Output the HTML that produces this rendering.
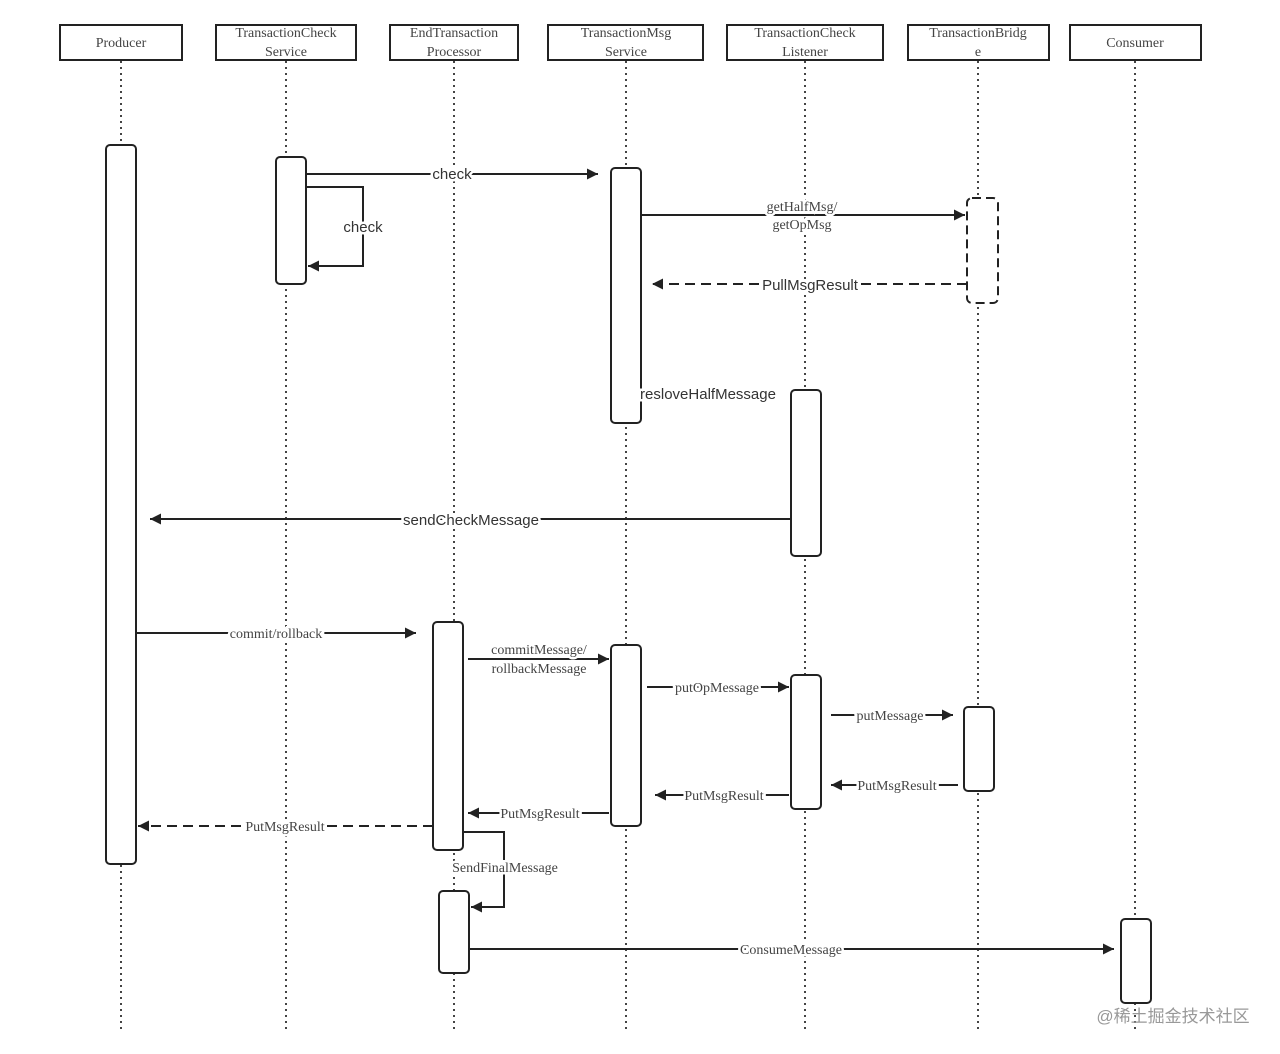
<!DOCTYPE html>
<html><head><meta charset="utf-8"><style>
html,body{margin:0;padding:0;background:#fff;}
svg{display:block;}
.serif{font-family:"Liberation Serif",serif;font-size:14px;fill:#444;}
.sans{font-family:"Liberation Sans",sans-serif;font-size:15px;fill:#333;}
.lbl{paint-order:stroke;stroke:#fff;stroke-width:5px;}
</style></head><body>
<svg width="1280" height="1054" viewBox="0 0 1280 1054" xmlns="http://www.w3.org/2000/svg">
<defs>
<marker id="a" viewBox="0 0 10 10" refX="10" refY="5" markerWidth="17" markerHeight="11" markerUnits="userSpaceOnUse" orient="auto"><path d="M0,0 L10,5 L0,10 z" fill="#222"/></marker>
</defs>
<g stroke="#444" stroke-width="2" stroke-dasharray="2,4" fill="none">
<line x1="121" y1="61" x2="121" y2="1030"/>
<line x1="286" y1="61" x2="286" y2="1030"/>
<line x1="454" y1="61" x2="454" y2="1030"/>
<line x1="626" y1="61" x2="626" y2="1030"/>
<line x1="805" y1="61" x2="805" y2="1030"/>
<line x1="978" y1="61" x2="978" y2="1030"/>
<line x1="1135" y1="61" x2="1135" y2="1030"/>
</g>
<g stroke="#222" stroke-width="2" fill="#fff">
<rect x="60" y="25" width="122" height="35"/>
<rect x="216" y="25" width="140" height="35"/>
<rect x="390" y="25" width="128" height="35"/>
<rect x="548" y="25" width="155" height="35"/>
<rect x="727" y="25" width="156" height="35"/>
<rect x="908" y="25" width="141" height="35"/>
<rect x="1070" y="25" width="131" height="35"/>
</g>
<g class="serif" text-anchor="middle">
<text x="121" y="47">Producer</text>
<text x="286" y="37">TransactionCheck</text><text x="286" y="56">Service</text>
<text x="454" y="37">EndTransaction</text><text x="454" y="56">Processor</text>
<text x="626" y="37">TransactionMsg</text><text x="626" y="56">Service</text>
<text x="805" y="37">TransactionCheck</text><text x="805" y="56">Listener</text>
<text x="978" y="37">TransactionBridg</text><text x="978" y="56">e</text>
<text x="1135" y="47">Consumer</text>
</g>
<g stroke="#222" stroke-width="2" fill="#fff">
<rect x="106" y="145" width="30" height="719" rx="4"/>
<rect x="276" y="157" width="30" height="127" rx="4"/>
<rect x="611" y="168" width="30" height="255" rx="4"/>
<rect x="967" y="198" width="31" height="105" rx="5" stroke-dasharray="9,5"/>
<rect x="791" y="390" width="30" height="166" rx="4"/>
<rect x="433" y="622" width="30" height="228" rx="4"/>
<rect x="611" y="645" width="30" height="181" rx="4"/>
<rect x="791" y="675" width="30" height="134" rx="4"/>
<rect x="964" y="707" width="30" height="84" rx="4"/>
<rect x="439" y="891" width="30" height="82" rx="4"/>
<rect x="1121" y="919" width="30" height="84" rx="4"/>
</g>
<g stroke="#222" stroke-width="2" fill="none">
<line x1="306" y1="174" x2="598" y2="174" marker-end="url(#a)"/>
<polyline points="306,187 363,187 363,266 308,266" marker-end="url(#a)"/>
<line x1="641" y1="215" x2="965" y2="215" marker-end="url(#a)"/>
<line x1="967" y1="284" x2="652" y2="284" stroke-dasharray="10,6" marker-end="url(#a)"/>
<line x1="791" y1="519" x2="150" y2="519" marker-end="url(#a)"/>
<line x1="136" y1="633" x2="416" y2="633" marker-end="url(#a)"/>
<line x1="468" y1="659" x2="609" y2="659" marker-end="url(#a)"/>
<line x1="647" y1="687" x2="789" y2="687" marker-end="url(#a)"/>
<line x1="831" y1="715" x2="953" y2="715" marker-end="url(#a)"/>
<line x1="958" y1="785" x2="831" y2="785" marker-end="url(#a)"/>
<line x1="789" y1="795" x2="655" y2="795" marker-end="url(#a)"/>
<line x1="609" y1="813" x2="468" y2="813" marker-end="url(#a)"/>
<line x1="433" y1="826" x2="138" y2="826" stroke-dasharray="10,6" marker-end="url(#a)"/>
<polyline points="463,832 504,832 504,907 471,907" marker-end="url(#a)"/>
<line x1="469" y1="949" x2="1114" y2="949" marker-end="url(#a)"/>
</g>
<g class="sans lbl" text-anchor="middle">
<text x="452" y="179">check</text>
<text x="363" y="232">check</text>
<text x="810" y="290">PullMsgResult</text>
<text x="708" y="399">resloveHalfMessage</text>
<text x="471" y="525">sendCheckMessage</text>
</g>
<g class="serif lbl" text-anchor="middle">
<text x="802" y="211">getHalfMsg/</text>
<text x="802" y="229">getOpMsg</text>
<text x="276" y="638">commit/rollback</text>
<text x="539" y="654" text-anchor="middle">commitMessage/</text>
<text x="539" y="673" text-anchor="middle">rollbackMessage</text>
<text x="717" y="692">putOpMessage</text>
<text x="890" y="720">putMessage</text>
<text x="897" y="790">PutMsgResult</text>
<text x="724" y="800">PutMsgResult</text>
<text x="540" y="818">PutMsgResult</text>
<text x="285" y="831">PutMsgResult</text>
<text x="505" y="872">SendFinalMessage</text>
<text x="791" y="954">ConsumeMessage</text>
</g>
<text x="1173" y="1022" text-anchor="middle" style="font-family:'Liberation Sans','Noto Sans CJK SC',sans-serif;font-size:17px;fill:#999;">@稀土掘金技术社区</text>
</svg>
</body></html>
